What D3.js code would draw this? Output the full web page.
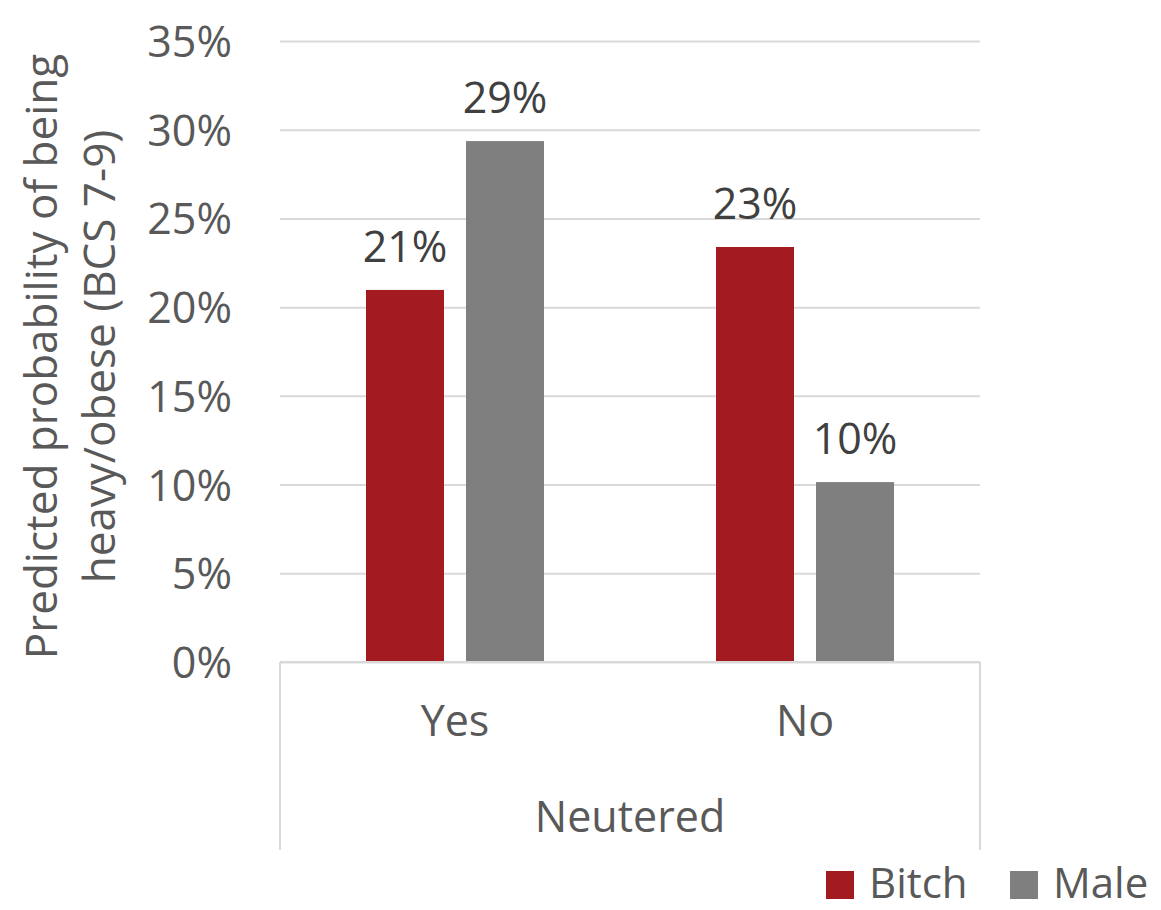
<!DOCTYPE html>
<html><head><meta charset="utf-8">
<script src="https://cdnjs.cloudflare.com/ajax/libs/d3/7.8.5/d3.min.js"></script>
<style>body{margin:0;background:#fff}svg{display:block}text{font-family:"Open Sans",sans-serif}</style>
</head><body><svg id="c" width="1161" height="910"></svg>
<script>
const categories = ["Yes", "No"];
const seriesNames = ["Bitch", "Male"];
const bitchValues = [0.2097, 0.2339];
const maleValues = [0.2936, 0.1014];
const valueLabels = [["21%", "29%"], ["23%", "10%"]];
const yTicks = [0, 0.05, 0.10, 0.15, 0.20, 0.25, 0.30, 0.35];
const colors = ["#A31B21", "#7F7F7F"];

const svg = d3.select("#c");
const L = 280, R = 980, T = 41, B = 662;
const y = d3.scaleLinear().domain([0, 0.35]).range([B, T]);
const x = d3.scaleBand().domain(categories).range([L, R]).padding(0);
const xi = d3.scaleBand().domain(seriesNames).range([86, 264]).paddingInner(0.22).paddingOuter(0);

// gridlines
const yAxis = d3.axisLeft(y).tickValues(yTicks).tickFormat(d3.format(".0%")).tickSize(-(R - L)).tickPadding(48);
const ga = svg.append("g").attr("transform", `translate(${L},0)`).call(yAxis);
ga.select(".domain").remove();
ga.selectAll(".tick line").attr("stroke", "#d9d9d9").attr("stroke-width", 2);
ga.selectAll(".tick text").attr("fill", "#595959").attr("font-size", 43).attr("dy", "0.36em");

// bars
const data = categories.map((c, i) => ({cat: c, vals: [bitchValues[i], maleValues[i]]}));
const groups = svg.append("g").selectAll("g").data(data).join("g")
  .attr("transform", d => `translate(${x(d.cat)},0)`);
groups.selectAll("rect").data((d, i) => d.vals.map((v, j) => ({s: seriesNames[j], v, j, i})))
  .join("rect")
  .attr("x", d => xi(d.s)).attr("width", xi.bandwidth())
  .attr("y", d => y(d.v)).attr("height", d => y(0) - y(d.v))
  .attr("fill", d => colors[d.j]);
groups.selectAll("text.lbl").data((d, i) => d.vals.map((v, j) => ({s: seriesNames[j], v, j, i})))
  .join("text").attr("class", "lbl")
  .attr("x", d => xi(d.s) + xi.bandwidth() / 2).attr("y", d => y(d.v) - 28)
  .attr("text-anchor", "middle").attr("fill", "#404040").attr("font-size", 43)
  .text(d => valueLabels[d.i][d.j]);

// category axis
const ax = svg.append("g").attr("stroke", "#d9d9d9").attr("stroke-width", 2);
ax.append("line").attr("x1", L).attr("x2", R).attr("y1", B).attr("y2", B);
ax.append("line").attr("x1", L).attr("x2", L).attr("y1", B).attr("y2", 850);
ax.append("line").attr("x1", R).attr("x2", R).attr("y1", B).attr("y2", 850);
svg.append("g").selectAll("text").data(categories).join("text")
  .attr("x", d => x(d) + x.bandwidth() / 2).attr("y", 736)
  .attr("text-anchor", "middle").attr("fill", "#595959").attr("font-size", 43).text(d => d);
svg.append("text").attr("x", (L + R) / 2).attr("y", 832).attr("text-anchor", "middle")
  .attr("fill", "#595959").attr("font-size", 43).text("Neutered");

// y title
const yt = svg.append("text").attr("transform", `translate(0,${(T + B) / 2 + 5}) rotate(-90)`)
  .attr("text-anchor", "middle").attr("fill", "#595959").attr("font-size", 44);
yt.append("tspan").attr("x", 0).attr("y", 57).text("Predicted probability of being");
yt.append("tspan").attr("x", 0).attr("y", 115).text("heavy/obese (BCS 7-9)");

// legend
const lg = svg.append("g");
const legX = [826, 1010];
seriesNames.forEach((s, i) => {
  lg.append("rect").attr("x", legX[i]).attr("y", 871).attr("width", 28).attr("height", 28).attr("fill", colors[i]);
  lg.append("text").attr("x", legX[i] + 43).attr("y", 898).attr("fill", "#595959").attr("font-size", 42).text(s);
});
</script></body></html>
